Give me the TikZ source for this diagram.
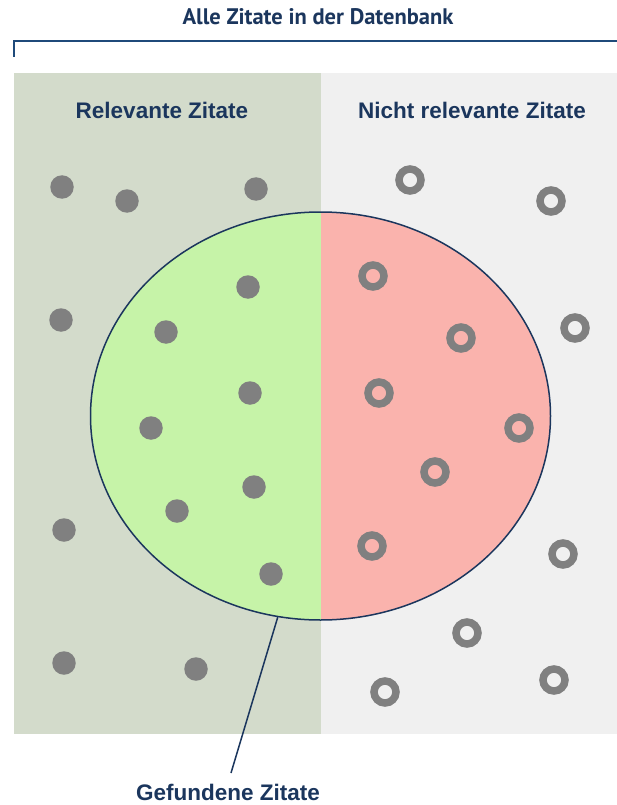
\documentclass[tikz,border=0pt]{standalone}
\usepackage{fontspec}
\usetikzlibrary{shapes.geometric}
\newfontfamily\hdrfont{Liberation Sans}
\newfontfamily\ttlfont{PT Sans}
\definecolor{navy}{HTML}{1B365D}
\definecolor{bracketc}{HTML}{1F4A7A}
\definecolor{leftbg}{HTML}{D3DBCB}
\definecolor{rightbg}{HTML}{F0F0F0}
\definecolor{foundgreen}{HTML}{C6F3A8}
\definecolor{foundred}{HTML}{FAB3AD}
\definecolor{dotgray}{HTML}{808080}
\begin{document}
\begin{tikzpicture}[x=1pt,y=-1pt,
  reldot/.style={circle,fill=dotgray,inner sep=0pt,minimum size=23.5pt},
  ring/.style={circle,draw=dotgray,line width=7.5pt,inner sep=0pt,minimum size=22pt},
  hdr/.style={font=\hdrfont\bfseries\fontsize{22.5}{27}\selectfont,text=navy,anchor=base,inner sep=0pt},
  ttl/.style={font=\ttlfont\bfseries\fontsize{22.5}{27}\selectfont,text=navy,anchor=base,inner sep=0pt},
  pointer/.style={draw=navy,line width=1.5pt}]
\useasboundingbox (0,0) rectangle (617,805);
\fill[white] (0,0) rectangle (617,805);
% title and bracket
\node[ttl] (title) at (318,25) {Alle Zitate in der Datenbank};
\coordinate (bl) at (14,57);
\coordinate (bc) at (14,41);
\coordinate (br) at (617,41);
\draw[bracketc,line width=2.5pt] (bl) -- (bc) -- (br);
% panels
\fill[leftbg] (14,73) rectangle (321,734);
\fill[rightbg] (321,73) rectangle (617,734);
\node[hdr] (relhdr) at (162,119) {Relevante Zitate};
\node[hdr] (nrelhdr) at (472,119) {Nicht relevante Zitate};
% found ellipse
\node[ellipse,draw=navy,line width=1.5pt,inner sep=0pt,
  minimum width=460pt,minimum height=408pt,
  path picture={
    \fill[foundgreen] (path picture bounding box.south west) rectangle (path picture bounding box.north);
    \fill[foundred] (path picture bounding box.north) rectangle (path picture bounding box.south east);
  }] (found) at (320.5,416) {};
% relevant dots
\node[reldot] (r1) at (62,187) {};
\node[reldot] (r2) at (127,201) {};
\node[reldot] (r3) at (256,189) {};
\node[reldot] (r4) at (61,320) {};
\node[reldot] (r5) at (248,287) {};
\node[reldot] (r6) at (166,332) {};
\node[reldot] (r7) at (250,393) {};
\node[reldot] (r8) at (151,428) {};
\node[reldot] (r9) at (254,487) {};
\node[reldot] (r10) at (177,511) {};
\node[reldot] (r11) at (271,574) {};
\node[reldot] (r12) at (64,530) {};
\node[reldot] (r13) at (64,663) {};
\node[reldot] (r14) at (196,669) {};
% non-relevant rings
\node[ring] (n1) at (410,180) {};
\node[ring] (n2) at (551,201) {};
\node[ring] (n3) at (373,276) {};
\node[ring] (n4) at (461,338) {};
\node[ring] (n5) at (575,328) {};
\node[ring] (n6) at (379,393) {};
\node[ring] (n7) at (519,428) {};
\node[ring] (n8) at (435,472) {};
\node[ring] (n9) at (372,546) {};
\node[ring] (n10) at (563,554) {};
\node[ring] (n11) at (467,633) {};
\node[ring] (n12) at (554,680) {};
\node[ring] (n13) at (385,692) {};
% label
\node[hdr] (foundlbl) at (228,800) {Gefundene Zitate};
\coordinate (lblend) at (231,773);
\draw[pointer] (found.258) -- (lblend);
\end{tikzpicture}
\end{document}
